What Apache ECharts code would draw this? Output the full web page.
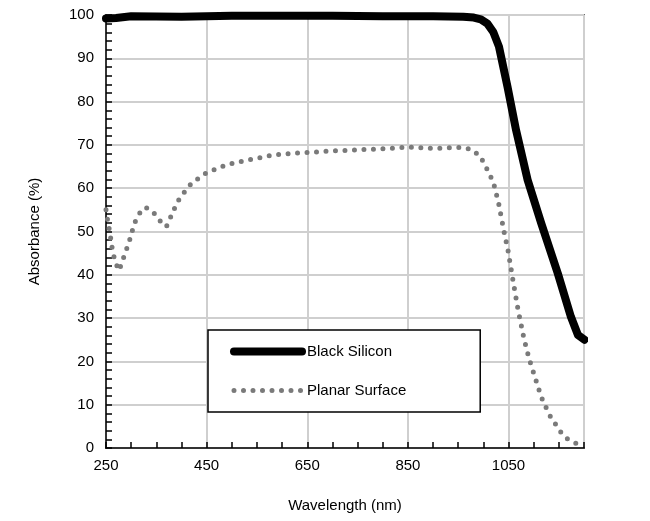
<!DOCTYPE html>
<html>
<head>
<meta charset="utf-8">
<script src="https://cdn.jsdelivr.net/npm/echarts@6/dist/echarts.min.js"></script>
<style>html,body{margin:0;background:#fff}#chart{width:650px;height:521px}</style>
</head>
<body>
<div id="chart"></div>
<script>
const blackX = [250, 270, 300, 400, 500, 600, 700, 800, 900, 960, 981, 995, 1008, 1020, 1031, 1048, 1065, 1088, 1115, 1148, 1174, 1188, 1201];
const blackY = [99.2, 99.3, 99.7, 99.6, 99.8, 99.8, 99.8, 99.7, 99.7, 99.6, 99.4, 99, 98, 96, 92.7, 83.4, 73.4, 61.9, 51.9, 40.3, 30.3, 26.1, 25];

const planarX = [250, 254, 258, 261, 264, 269, 276, 283, 289, 296, 301, 307, 315, 329, 345, 357, 370, 378, 386, 395, 407, 419, 435, 451, 470, 489, 508, 527, 547, 566, 586, 605, 625, 700, 800, 850, 900, 950, 965, 979, 994, 1003, 1012, 1020, 1030, 1041, 1049, 1059, 1069, 1081, 1091, 1103, 1115, 1131, 1153, 1166, 1184];
const planarY = [55, 52, 49.6, 47, 45, 42.8, 41, 43.3, 45.3, 47.6, 49.7, 52, 54, 55.6, 54.3, 52.5, 51.1, 53.2, 55.3, 57.4, 59.3, 61, 62.4, 63.7, 64.5, 65.4, 65.9, 66.4, 66.8, 67.3, 67.7, 67.9, 68.1, 68.6, 69.1, 69.5, 69.2, 69.4, 69.3, 68.8, 67.3, 65.4, 63.3, 61.3, 56.7, 50, 45.6, 38.6, 31.9, 25.1, 20.6, 16.2, 11.8, 7.7, 3.8, 2.2, 1.1];

const font = "Liberation Sans";
const blackLine = { color: "#000", width: 8, cap: "round", join: "round" };
const dotLine = { color: "#7a7a7a", width: 5, type: [0, 9.5], cap: "round" };

const chart = echarts.init(document.getElementById("chart"));
chart.setOption({
  animation: false,
  grid: { left: 106, right: 66, top: 15, bottom: 73, show: true, borderColor: "#000", borderWidth: 1.5 },
  xAxis: [
    {
      type: "value", min: 250, max: 1200, interval: 50,
      name: "Wavelength (nm)", nameLocation: "middle", nameGap: 50,
      nameTextStyle: { fontFamily: font, fontSize: 15, color: "#000" },
      axisLine: { lineStyle: { color: "#000", width: 1.5 } },
      axisTick: { inside: true, length: 6, lineStyle: { color: "#000", width: 1.5 } },
      axisLabel: {
        fontFamily: font, fontSize: 15, color: "#000", margin: 10,
        formatter: (v) => ((v - 250) % 200 === 0 && v <= 1050 ? String(v) : ""),
      },
      splitLine: { show: false },
    },
    {
      type: "value", min: 0, max: 950, interval: 200, position: "bottom",
      axisLine: { show: false }, axisTick: { show: false }, axisLabel: { show: false },
      splitLine: { show: true, lineStyle: { color: "#cfcfcf", width: 2 } },
    },
  ],
  yAxis: {
    type: "value", min: 0, max: 100, interval: 10,
    name: "Absorbance (%)", nameLocation: "middle", nameGap: 64,
    nameTextStyle: { fontFamily: font, fontSize: 15, color: "#000" },
    axisLine: { show: true, lineStyle: { color: "#000", width: 1.5 } },
    axisTick: { show: true, inside: true, length: 6, lineStyle: { color: "#000", width: 1.5 } },
    minorTick: { show: true, splitNumber: 5, length: 6, lineStyle: { color: "#000", width: 1.5 } },
    axisLabel: { fontFamily: font, fontSize: 15, color: "#000", margin: 12 },
    splitLine: { show: true, lineStyle: { color: "#cfcfcf", width: 2 } },
  },
  legend: {
    orient: "vertical", left: 208, top: 330,
    padding: [14, 74, 14, 22], itemGap: 24,
    itemWidth: 68, itemHeight: 10,
    borderColor: "#000", borderWidth: 1.5, backgroundColor: "#fff",
    textStyle: { fontFamily: font, fontSize: 15, color: "#000" },
    data: [
      { name: "Black Silicon", itemStyle: { opacity: 0 }, lineStyle: blackLine },
      { name: "Planar Surface", itemStyle: { opacity: 0 }, lineStyle: dotLine },
    ],
  },
  series: [
    {
      name: "Black Silicon", type: "line", showSymbol: false, symbol: "none", clip: false,
      data: blackX.map((x, i) => [x, blackY[i]]),
      lineStyle: blackLine,
      itemStyle: { color: "#000" },
      z: 3,
    },
    {
      name: "Planar Surface", type: "line", showSymbol: false, symbol: "none", clip: false,
      data: planarX.map((x, i) => [x, planarY[i]]),
      lineStyle: dotLine,
      itemStyle: { color: "#7a7a7a" },
      z: 2,
    },
  ],
});
</script>
</body>
</html>
